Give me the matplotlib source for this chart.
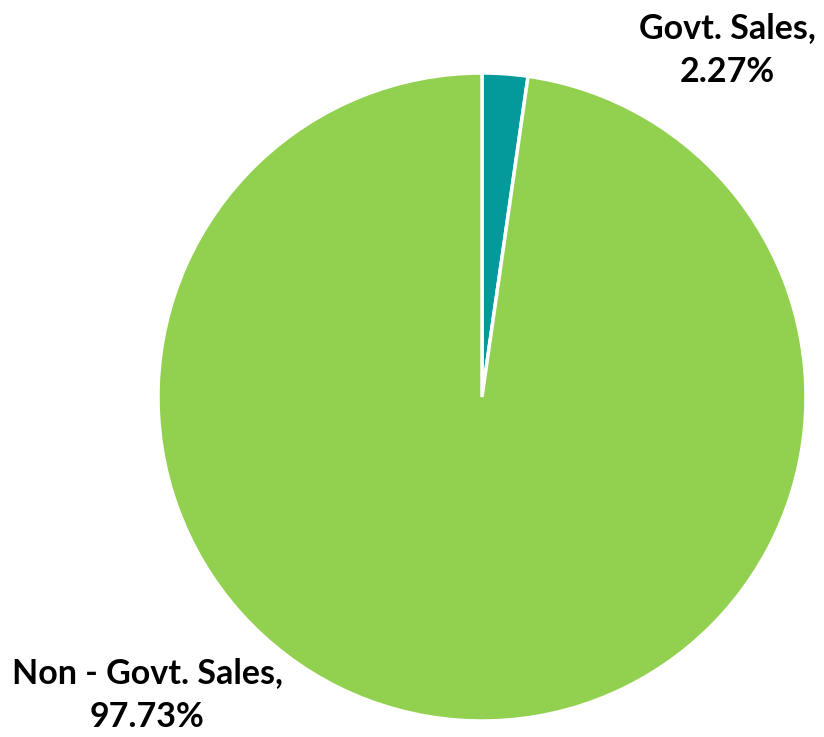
import matplotlib
matplotlib.use("Agg")
import matplotlib.pyplot as plt

labels = ["Govt. Sales", "Non - Govt. Sales"]
shares = [2.27, 97.73]
colors = ["#049A9C", "#92D050"]

W, H = 824, 737
fig = plt.figure(figsize=(W / 100, H / 100), dpi=100)

# pie centre and radius in pixels
cx, cy, r = 482, 397, 324
ax = fig.add_axes([(cx - r) / W, (H - cy - r) / H, 2 * r / W, 2 * r / H])
ax.pie(shares, colors=colors, startangle=90, counterclock=False,
       wedgeprops=dict(edgecolor="white", linewidth=2.5))
ax.set_xlim(-1, 1)
ax.set_ylim(-1, 1)
ax.set_aspect("auto")
ax.axis("off")

font = dict(family=["Lato", "DejaVu Sans"], fontsize=24.5, fontweight="bold",
            ha="center", va="center", color="black", linespacing=1.45)
spots = [(727, 50), (147, 695)]
for name, val, (px, py) in zip(labels, shares, spots):
    fig.text(px / W, 1 - py / H, f"{name},\n{val:.2f}%", **font)

fig.savefig("out.png", dpi=100)
